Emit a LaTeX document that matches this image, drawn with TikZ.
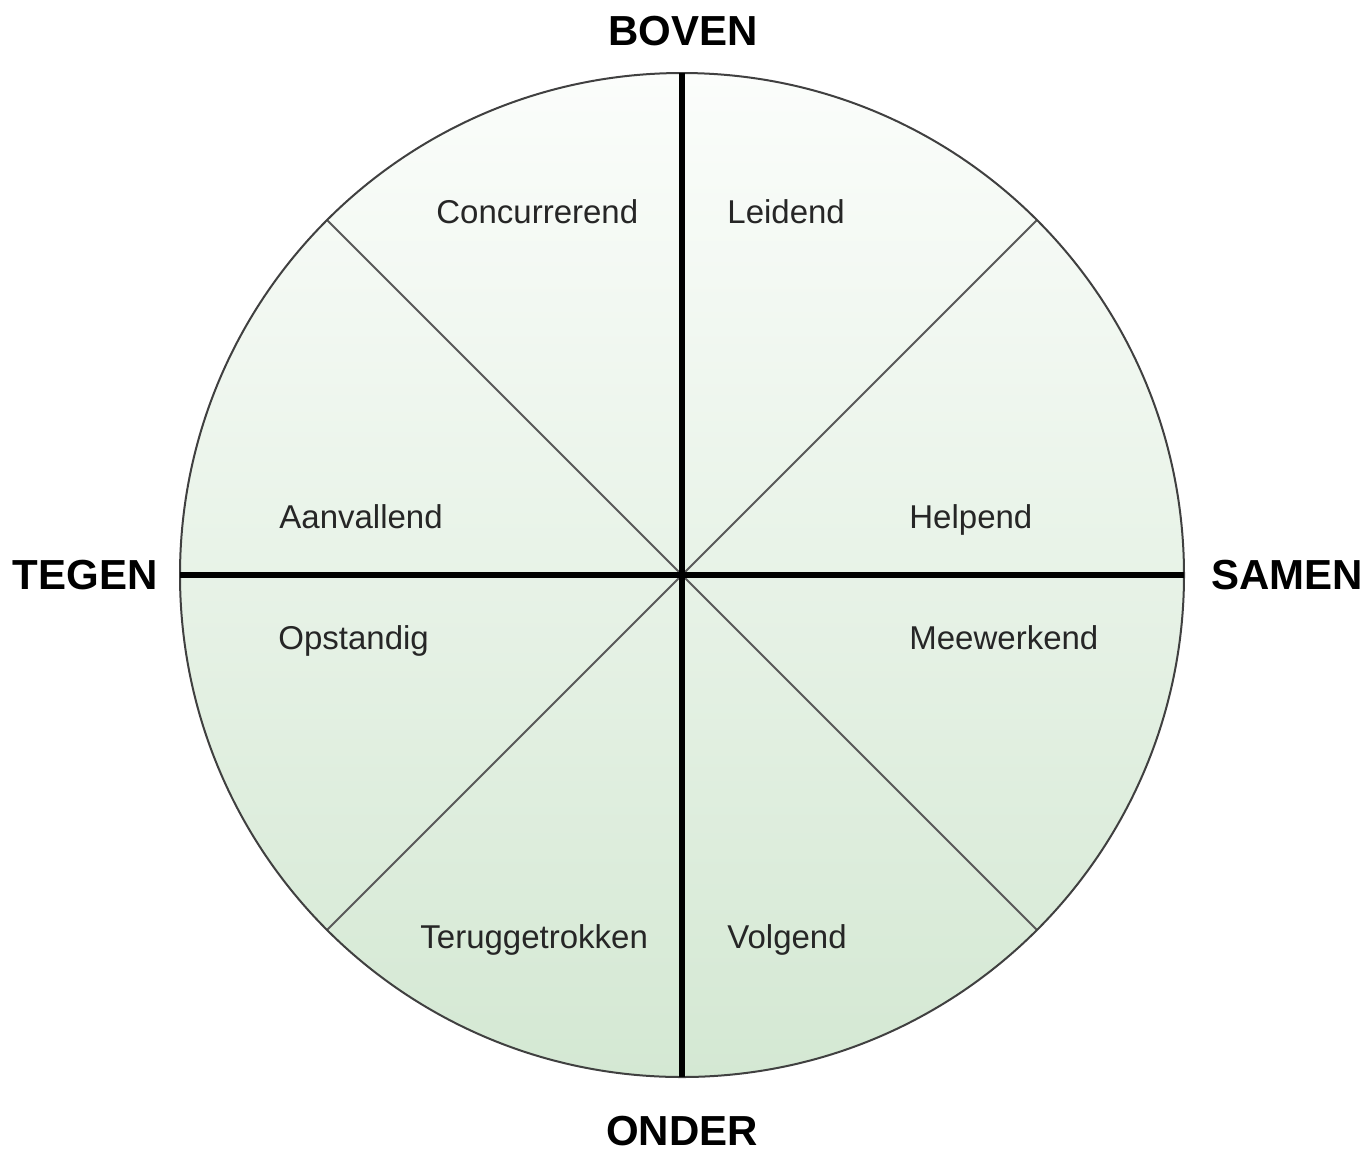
\documentclass[tikz,border=0pt]{standalone}
\usepackage{fontspec}
\setmainfont{Liberation Sans}
\definecolor{topg}{RGB}{251,253,251}
\definecolor{botg}{RGB}{212,232,211}
\begin{document}
\begin{tikzpicture}[x=0.5pt,y=-0.5pt,
  lab/.style={anchor=base west,inner sep=0pt,font=\fontsize{16.5}{18}\selectfont,text=black!85},
  head/.style={anchor=base,inner sep=0pt,font=\fontsize{21}{24}\selectfont\bfseries},
  axis/.style={line width=3pt,black},
  diag/.style={line width=0.9pt,black!65}]
\useasboundingbox (0,0) rectangle (1372,1153);
\coordinate (c) at (682,575);
\shade[top color=topg,bottom color=botg] (c) circle[radius=502];
\coordinate (n) at (682,73);
\coordinate (s) at (682,1077);
\coordinate (w) at (180,575);
\coordinate (e) at (1184,575);
\coordinate (nw) at (327,220);
\coordinate (ne) at (1037,220);
\coordinate (sw) at (327,930);
\coordinate (se) at (1037,930);
\draw[diag] (nw) -- (se);
\draw[diag] (ne) -- (sw);
\draw[line width=1pt,black!75] (c) circle[radius=502];
\draw[axis] (n) -- (s);
\draw[axis] (w) -- (e);
\node[head] (boven) at (683,45) {BOVEN};
\node[head] (onder) at (682,1145) {ONDER};
\node[head] (tegen) at (85,589) {TEGEN};
\node[head] (samen) at (1287,589) {SAMEN};
\node[lab] (conc) at (436,223) {Concurrerend};
\node[lab] (leid) at (727,223) {Leidend};
\node[lab] (aanv) at (279,528) {Aanvallend};
\node[lab] (help) at (909,528) {Helpend};
\node[lab] (opst) at (278,649) {Opstandig};
\node[lab] (meew) at (909,649) {Meewerkend};
\node[lab] (teru) at (420,948) {Teruggetrokken};
\node[lab] (volg) at (727,948) {Volgend};
\end{tikzpicture}
\end{document}
